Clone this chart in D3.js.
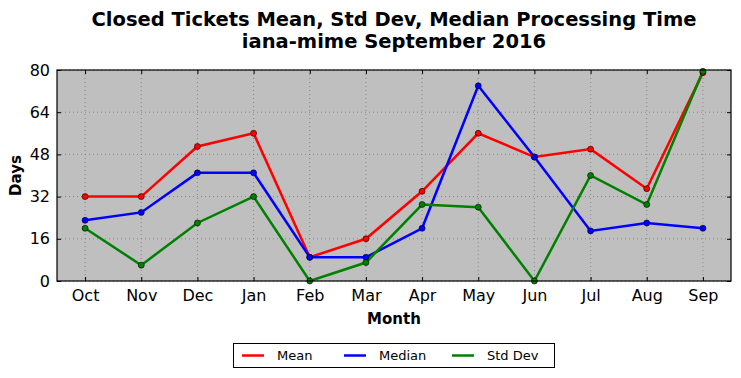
<!DOCTYPE html>
<html><head><meta charset="utf-8">
<script src="https://cdn.jsdelivr.net/npm/d3@7"></script>
<style>body{margin:0;background:#fff;} svg{display:block;font-family:"DejaVu Sans",sans-serif;}</style>
</head><body>
<svg id="c" width="741" height="378"></svg>
<script>
const months = ["Oct","Nov","Dec","Jan","Feb","Mar","Apr","May","Jun","Jul","Aug","Sep"];
const meanVals = [32,32,51,56,9,16,34,56,47,50,35,79];
const medianVals = [23,26,41,41,9,9,20,74,47,19,22,20];
const stdVals = [20,6,22,32,0,7,29,28,0,40,29,79.5];
const yTicks = [0,16,32,48,64,80];
const seriesNames = ["Mean","Median","Std Dev"];
const seriesColors = ["#ff0000","#0000ff","#008000"];

const svg = d3.select("#c");
const L=57,R=731,T=70,B=281;
const x = d3.scalePoint().domain(months).range([L,R]).padding(0.5);
const y = d3.scaleLinear().domain([0,80]).range([B,T]);

svg.append("rect").attr("x",L).attr("y",T).attr("width",R-L).attr("height",B-T).attr("fill","#bfbfbf");

// grid
const g = svg.append("g");
months.forEach(m=>{
  g.append("line").attr("x1",x(m)).attr("x2",x(m)).attr("y1",T).attr("y2",B)
   .attr("stroke","#7a7a7a").attr("stroke-width",0.8).attr("stroke-dasharray","1,3");
});
yTicks.forEach(t=>{
  g.append("line").attr("x1",L).attr("x2",R).attr("y1",y(t)).attr("y2",y(t))
   .attr("stroke","#7a7a7a").attr("stroke-width",0.8).attr("stroke-dasharray","1,3");
});

// axes
const xAxB = svg.append("g").attr("transform",`translate(0,${B})`).call(d3.axisBottom(x).tickSizeInner(-4).tickSizeOuter(0).tickPadding(9));
const xAxT = svg.append("g").attr("transform",`translate(0,${T})`).call(d3.axisTop(x).tickSizeInner(-4).tickSizeOuter(0).tickFormat(""));
const yAxL = svg.append("g").attr("transform",`translate(${L},0)`).call(d3.axisLeft(y).tickValues(yTicks).tickSizeInner(-4).tickSizeOuter(0).tickPadding(7));
const yAxR = svg.append("g").attr("transform",`translate(${R},0)`).call(d3.axisRight(y).tickValues(yTicks).tickSizeInner(-4).tickSizeOuter(0).tickFormat(""));
[xAxB,xAxT,yAxL,yAxR].forEach(a=>{
  a.select(".domain").remove();
  a.selectAll("line").attr("stroke","#000");
  a.selectAll("text").attr("font-family","DejaVu Sans").attr("font-size",16).attr("fill","#000");
});

// lines
const data=[meanVals,medianVals,stdVals];
const line = d3.line().x((d,i)=>x(months[i])).y(d=>y(d));
const order=[0,1,2];
order.forEach(k=>{
  svg.append("path").attr("d",line(data[k])).attr("fill","none").attr("stroke",seriesColors[k]).attr("stroke-width",2.5).attr("stroke-linejoin","miter");
});
order.forEach(k=>{
  svg.append("g").selectAll("circle").data(data[k]).join("circle")
    .attr("cx",(d,i)=>x(months[i])).attr("cy",d=>y(d)).attr("r",3)
    .attr("fill",seriesColors[k]).attr("stroke","#000").attr("stroke-width",0.6);
});

// frame
svg.append("rect").attr("x",L).attr("y",T).attr("width",R-L).attr("height",B-T).attr("fill","none").attr("stroke","#000").attr("stroke-width",1.2);

// titles
svg.append("text").attr("x",(L+R)/2).attr("y",26).attr("text-anchor","middle").attr("font-weight","bold").attr("font-size",19.5).text("Closed Tickets Mean, Std Dev, Median Processing Time");
svg.append("text").attr("x",(L+R)/2).attr("y",48).attr("text-anchor","middle").attr("font-weight","bold").attr("font-size",19.5).text("iana-mime September 2016");
svg.append("text").attr("x",(L+R)/2).attr("y",324).attr("text-anchor","middle").attr("font-weight","bold").attr("font-size",15).text("Month");
svg.append("text").attr("transform",`translate(21,${(T+B)/2}) rotate(-90)`).attr("text-anchor","middle").attr("font-weight","bold").attr("font-size",15).text("Days");

// legend
const lg = svg.append("g");
lg.append("rect").attr("x",233.5).attr("y",343.5).attr("width",321).attr("height",24).attr("fill","#fff").attr("stroke","#000").attr("stroke-width",1);
const lx=[242,344,452];
seriesNames.forEach((n,k)=>{
  lg.append("line").attr("x1",lx[k]).attr("x2",lx[k]+22).attr("y1",355.5).attr("y2",355.5).attr("stroke",seriesColors[k]).attr("stroke-width",2.5);
  lg.append("text").attr("x",lx[k]+35).attr("y",360).attr("font-size",13).text(n);
});
</script>
</body></html>
